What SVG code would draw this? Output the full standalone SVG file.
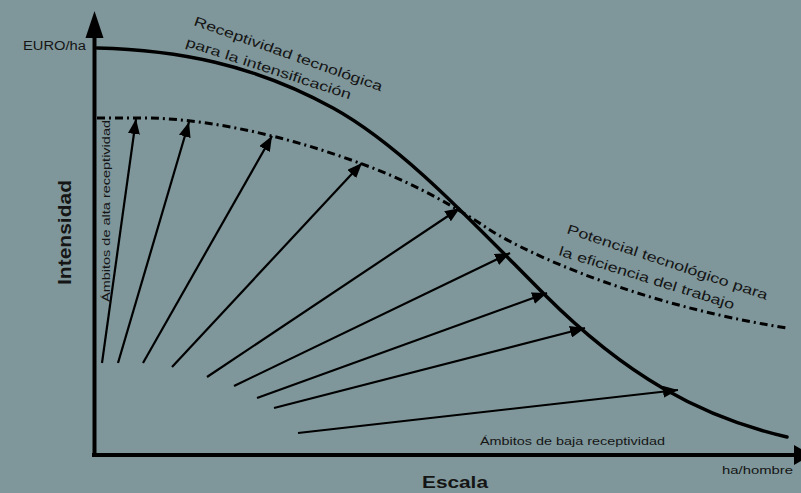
<svg xmlns="http://www.w3.org/2000/svg" width="801" height="493" viewBox="0 0 801 493">
<defs>
<style>
text{font-family:"Liberation Sans",Arial,sans-serif;fill:#151515}
.ax{stroke:#000;stroke-width:4;fill:none}
.main{stroke:#000;stroke-width:3.5;fill:none;stroke-linecap:round}
.dd{stroke:#000;stroke-width:3;fill:none;stroke-dasharray:8 4 2 4}
.ar{stroke:#000;stroke-width:2.2;fill:none;marker-end:url(#ah)}
</style>
<marker id="ah" markerUnits="userSpaceOnUse" markerWidth="16" markerHeight="12" refX="15" refY="6" orient="auto"><path d="M0,0 L15,6 L0,12 Z" fill="#000"/></marker>
</defs>
<rect width="801" height="493" fill="#7f979b"/>
<g id="axes">
<line class="ax" x1="94.5" y1="457" x2="94.5" y2="30"/>
<polygon points="94.5,11 85.5,38 103.5,38" fill="#000"/>
<line class="ax" x1="92" y1="455" x2="796" y2="455"/>
<polygon points="794,445 812,455 794,465" fill="#000"/>
</g>
<g id="curves">
<path id="receptividad" class="main" d="M97,48 C177,50 253,64 333,108 C403,146.5 475,225 545,295 C625,375 700,417 787,437"/>
<path id="potencial" class="dd" d="M97,118 L150,118 C220,120 300,140 370,167 C420,186 460,210 490,230 C530,255 640,305 787,328"/>
</g>
<g id="connectors">
<line class="ar" x1="102" y1="363" x2="136" y2="119"/>
<line class="ar" x1="118" y1="363" x2="189" y2="122"/>
<line class="ar" x1="143" y1="363" x2="272" y2="136"/>
<line class="ar" x1="172" y1="367" x2="362" y2="163"/>
<line class="ar" x1="207" y1="377" x2="460" y2="208"/>
<line class="ar" x1="234" y1="386" x2="510" y2="253"/>
<line class="ar" x1="257" y1="398" x2="547" y2="293"/>
<line class="ar" x1="274" y1="408" x2="585" y2="328"/>
<line class="ar" x1="298" y1="433" x2="678" y2="390"/>
</g>
<g id="labels">
<text x="23" y="50" font-size="12.5" textLength="63" lengthAdjust="spacingAndGlyphs">EURO/ha</text>
<text transform="translate(71,285) rotate(-90)" font-size="19" font-weight="bold" textLength="105" lengthAdjust="spacingAndGlyphs">Intensidad</text>
<text x="422" y="488" font-size="17" font-weight="bold" textLength="66" lengthAdjust="spacingAndGlyphs">Escala</text>
<text x="722" y="474" font-size="11.5" textLength="71" lengthAdjust="spacingAndGlyphs">ha/hombre</text>
<text x="480" y="445" font-size="11.5" textLength="185" lengthAdjust="spacingAndGlyphs">Ámbitos de baja receptividad</text>
<text transform="translate(110,302) rotate(-90)" font-size="11.5" textLength="182" lengthAdjust="spacingAndGlyphs">Ámbitos de alta receptividad</text>
<text transform="translate(193,25) rotate(19.5)" font-size="13.5" textLength="199" lengthAdjust="spacingAndGlyphs">Receptividad tecnológica</text>
<text transform="translate(185,46) rotate(18)" font-size="13.5" textLength="173" lengthAdjust="spacingAndGlyphs">para la intensificación</text>
<text transform="translate(566,233) rotate(18.5)" font-size="13.5" textLength="211" lengthAdjust="spacingAndGlyphs">Potencial tecnológico para</text>
<text transform="translate(558,255) rotate(17.3)" font-size="13.5" textLength="183" lengthAdjust="spacingAndGlyphs">la eficiencia del trabajo</text>
</g>
</svg>
